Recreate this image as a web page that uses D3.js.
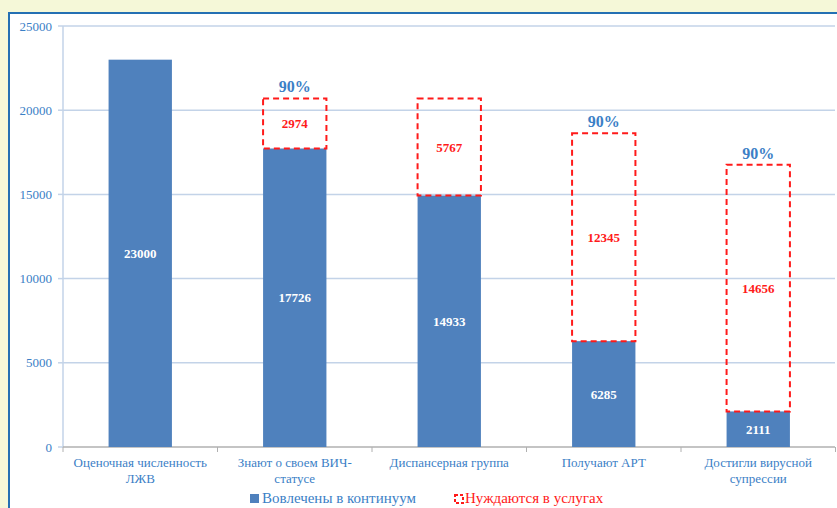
<!DOCTYPE html>
<html><head><meta charset="utf-8">
<script src="https://cdn.jsdelivr.net/npm/d3@7"></script>
<style>
html,body{margin:0;padding:0;background:#f5f8d8;overflow:hidden;}
svg{display:block;}
</style></head>
<body>
<svg id="c" width="837" height="508"></svg>
<script>
const categories = [["Оценочная численность","ЛЖВ"],["Знают о своем ВИЧ-","статусе"],["Диспансерная группа"],["Получают АРТ"],["Достигли вирусной","супрессии"]];
const engaged = [23000, 17726, 14933, 6285, 2111];
const needs = [0, 2974, 5767, 12345, 14656];
const pctLabels = ["", "90%", "", "90%", "90%"];
const yTicks = [0, 5000, 10000, 15000, 20000, 25000];
const legendLabels = ["Вовлечены в континуум", "Нуждаются  в услугах"];

const svg = d3.select("#c");
const font = "'Liberation Serif','Times New Roman',serif";
const blue = "#4f81bd", red = "#ff1a1a", txtBlue = "#3b80c6";

// panel
svg.append("rect").attr("x",9).attr("y",13).attr("width",840).attr("height",510)
  .attr("fill","#fff").attr("stroke","#2470b3").attr("stroke-width",2);

const x = d3.scaleBand().domain(d3.range(categories.length)).range([63, 835.5]).paddingInner(0.59).paddingOuter(0.295);
const y = d3.scaleLinear().domain([0, 25000]).range([447, 26]);

// gridlines
svg.append("g").selectAll("line").data(yTicks.slice(1)).join("line")
  .attr("x1",63).attr("x2",835).attr("y1",d=>y(d)).attr("y2",d=>y(d))
  .attr("stroke","#c3d3e8").attr("stroke-width",1.5);
// y axis line
svg.append("line").attr("x1",63).attr("x2",63).attr("y1",y(25000)).attr("y2",y(0))
  .attr("stroke","#c3d3e8").attr("stroke-width",1.5);
// y tick marks and labels
const yg = svg.append("g").selectAll("g").data(yTicks).join("g");
yg.append("line").attr("x1",58).attr("x2",63).attr("y1",d=>y(d)).attr("y2",d=>y(d)).attr("stroke","#c3d3e8").attr("stroke-width",1.5);
yg.append("text").attr("x",52).attr("y",d=>y(d)).attr("dy","0.35em").attr("text-anchor","end")
  .attr("font-family",font).attr("font-size",13).attr("fill",txtBlue).text(d=>d);

// x axis line
svg.append("line").attr("x1",63).attr("x2",835).attr("y1",y(0)).attr("y2",y(0)).attr("stroke","#b0b0b0").attr("stroke-width",1.5);
const step = x.step();
svg.append("g").selectAll("line").data(d3.range(categories.length+1)).join("line")
  .attr("x1",d=>63+d*step).attr("x2",d=>63+d*step).attr("y1",y(0)).attr("y2",y(0)+5)
  .attr("stroke","#b0b0b0").attr("stroke-width",1);

// bars
svg.append("g").selectAll("rect").data(engaged).join("rect")
  .attr("x",(d,i)=>x(i)).attr("width",x.bandwidth()).attr("y",d=>y(d)).attr("height",d=>y(0)-y(d)).attr("fill",blue);

// dashed boxes
svg.append("g").selectAll("rect").data(needs.map((n,i)=>({n,i})).filter(d=>d.n>0)).join("rect")
  .attr("x",d=>x(d.i)).attr("width",x.bandwidth())
  .attr("y",d=>y(engaged[d.i]+d.n)).attr("height",d=>y(engaged[d.i])-y(engaged[d.i]+d.n))
  .attr("fill","none").attr("stroke",red).attr("stroke-width",2).attr("stroke-dasharray","6,4");

// bar labels
svg.append("g").selectAll("text").data(engaged).join("text")
  .attr("x",(d,i)=>x(i)+x.bandwidth()/2).attr("y",d=>(y(d)+y(0))/2).attr("dy","0.35em")
  .attr("text-anchor","middle").attr("font-family",font).attr("font-weight","bold").attr("font-size",13)
  .attr("fill","#fff").text(d=>d);
svg.append("g").selectAll("text").data(needs.map((n,i)=>({n,i})).filter(d=>d.n>0)).join("text")
  .attr("x",d=>x(d.i)+x.bandwidth()/2).attr("y",d=>(y(engaged[d.i])+y(engaged[d.i]+d.n))/2).attr("dy","0.35em")
  .attr("text-anchor","middle").attr("font-family",font).attr("font-weight","bold").attr("font-size",13)
  .attr("fill",red).text(d=>d.n);
svg.append("g").selectAll("text").data(pctLabels.map((p,i)=>({p,i})).filter(d=>d.p)).join("text")
  .attr("x",d=>x(d.i)+x.bandwidth()/2).attr("y",d=>y(engaged[d.i]+needs[d.i])-6)
  .attr("text-anchor","middle").attr("font-family",font).attr("font-weight","bold").attr("font-size",16)
  .attr("fill",txtBlue).text(d=>d.p);

// category labels
const cg = svg.append("g").selectAll("text").data(categories).join("text")
  .attr("x",(d,i)=>x(i)+x.bandwidth()/2).attr("y",467).attr("text-anchor","middle")
  .attr("font-family",font).attr("font-size",13).attr("fill",txtBlue);
cg.selectAll("tspan").data(d=>d).join("tspan")
  .attr("x",function(){return this.parentNode.getAttribute("x");})
  .attr("dy",(d,j)=>j===0?0:16).text(d=>d);

// legend
svg.append("rect").attr("x",250).attr("y",494).attr("width",9).attr("height",9).attr("fill",blue);
svg.append("text").attr("x",262).attr("y",503).attr("font-family",font).attr("font-size",15).attr("fill",txtBlue).text(legendLabels[0]);
svg.append("rect").attr("x",455).attr("y",495).attr("width",8).attr("height",8).attr("fill","none")
  .attr("stroke",red).attr("stroke-width",2).attr("stroke-dasharray","3,2");
svg.append("text").attr("x",465).attr("y",503).attr("font-family",font).attr("font-size",15).attr("fill",red).text(legendLabels[1]);
</script>
</body></html>
